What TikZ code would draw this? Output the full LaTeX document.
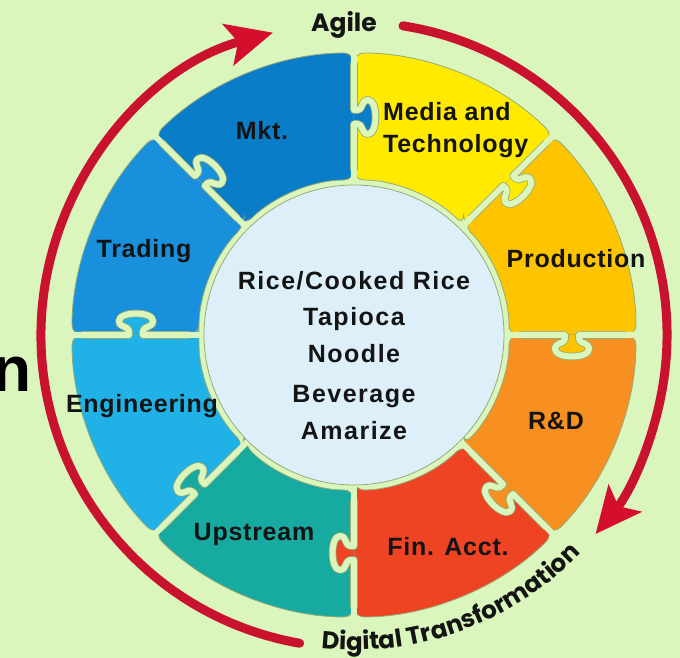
\documentclass[tikz,border=0pt]{standalone}
\usepackage{fontspec}
\setmainfont{Liberation Sans}
\newfontfamily\labelfont[LetterSpace=3]{Liberation Sans}
\newfontfamily\corefont[LetterSpace=6]{Liberation Sans}
\newfontfamily\arcfont{Poppins}
\usepackage{xcolor}
\usepackage{tikz}
\usetikzlibrary{arrows.meta}
\usetikzlibrary{decorations.text}
\usetikzlibrary{positioning}

\definecolor{bgc}{RGB}{218,246,188}
\definecolor{edgec}{RGB}{150,170,120}
\definecolor{mktc}{RGB}{10,125,200}
\definecolor{mediac}{RGB}{255,234,0}
\definecolor{prodc}{RGB}{255,196,0}
\definecolor{rdc}{RGB}{247,144,32}
\definecolor{finc}{RGB}{238,68,36}
\definecolor{upc}{RGB}{22,170,160}
\definecolor{engc}{RGB}{32,178,230}
\definecolor{tradc}{RGB}{24,144,220}
\definecolor{corec}{RGB}{221,240,250}
\definecolor{arcred}{RGB}{200,18,46}
\definecolor{tipred}{RGB}{214,14,46}
\definecolor{inkc}{RGB}{20,20,20}

\def\rin{155}
\def\rout{282}
\def\km{218}

\tikzset{piece-label/.style={font=\labelfont\bfseries\fontsize{25}{30}\selectfont, text=inkc, inner sep=0, anchor=base}}
\tikzset{core-label/.style={font=\corefont\bfseries\fontsize{25}{30}\selectfont, text=inkc, inner sep=0, anchor=base}}
\tikzset{gap-line/.style={draw=bgc, line width=6pt, line join=round}}
\tikzset{edge-line/.style={draw=edgec, line width=7.6pt, line join=round}}
\tikzset{cycle-arc/.style={draw=arcred, line width=9pt, line cap=round}}
\tikzset{>={Stealth[length=46pt, width=42pt, inset=10pt, color=tipred]}}

% one ring piece: start angle, end angle, colour
\newcommand{\piece}[3]{%
  \filldraw[fill=#3, draw=edgec, line width=0.8pt, rounded corners=10pt]
    (#1:\rin) -- (#1:\rout) arc[start angle=#1, end angle=#2, radius=\rout]
    -- (#2:\rin) arc[start angle=#2, end angle=#1, radius=\rin] -- cycle;}

% tab of the piece on the counter-clockwise side of the seam at angle #1
\newcommand{\knob}[2]{%
  \fill[#2, rotate=#1] (\km-7,0) -- (\km-7,-4)
    .. controls (\km-7,-9) and (\km-17,-7) .. (\km-17,-14)
    .. controls (\km-17,-24) and (\km+17,-24) .. (\km+17,-14)
    .. controls (\km+17,-7) and (\km+7,-9) .. (\km+7,-4) -- (\km+7,0) -- cycle;}

% seam between two pieces
\newcommand{\seam}[1]{%
  \draw[edge-line, rotate=#1] (\rin+10,0) -- (\km-7,0) -- (\km-7,-4)
    .. controls (\km-7,-9) and (\km-17,-7) .. (\km-17,-14)
    .. controls (\km-17,-24) and (\km+17,-24) .. (\km+17,-14)
    .. controls (\km+17,-7) and (\km+7,-9) .. (\km+7,-4) -- (\km+7,0) -- (\rout-10,0);
  \draw[gap-line, rotate=#1] (\rin-10,0) -- (\km-7,0) -- (\km-7,-4)
    .. controls (\km-7,-9) and (\km-17,-7) .. (\km-17,-14)
    .. controls (\km-17,-24) and (\km+17,-24) .. (\km+17,-14)
    .. controls (\km+17,-7) and (\km+7,-9) .. (\km+7,-4) -- (\km+7,0) -- (\rout+10,0);}

\begin{document}
\begin{tikzpicture}[x=1pt, y=1pt]
            \fill[bgc] (-354,-323) rectangle (326,335);
            \useasboundingbox (-354,-323) rectangle (326,335);

            % ring
            \piece{0}{45}{prodc}
            \piece{45}{90}{mediac}
            \piece{90}{135}{mktc}
            \piece{135}{180}{tradc}
            \piece{180}{225}{engc}
            \piece{225}{270}{upc}
            \piece{270}{315}{finc}
            \piece{315}{360}{rdc}

            \knob{0}{prodc}
            \knob{45}{mediac}
            \knob{90}{mktc}
            \knob{135}{tradc}
            \knob{180}{engc}
            \knob{225}{upc}
            \knob{270}{finc}
            \knob{315}{rdc}

            \seam{0}
            \seam{45}
            \seam{90}
            \seam{135}
            \seam{180}
            \seam{225}
            \seam{270}
            \seam{315}

            \filldraw[fill=corec, draw=edgec, line width=0.8pt] (0,0) circle[radius=150];

            % cycle arrows
            \draw[cycle-arc, ->] (81:313) arc[start angle=81, end angle=-39.5, radius=313];
            \draw[cycle-arc, ->] (260:313) arc[start angle=260, end angle=105, radius=313];

            \node[font=\arcfont\bfseries\fontsize{25}{30}\selectfont, text=inkc, inner sep=0] (agile) at (-10,310) {Agile};
            \path[decorate, decoration={text along path, text align=left,
                text={|\arcfont\bfseries\fontsize{24.5}{24.5}\selectfont\color{inkc}|Digital Transformation}}]
                (264:315) arc[start angle=264, end angle=330, radius=315];
            \node[font=\bfseries\fontsize{64}{64}\selectfont, text=black, inner sep=0, anchor=base east] (cutn) at (-322,-57) {n};

            % piece labels
            \node[piece-label] (mkt) at (-92,195) {Mkt.};
            \node[piece-label, anchor=base west] (media) at (29,214) {Media and};
            \node[piece-label, anchor=base west] (tech) at (29,182) {Technology};
            \node[piece-label] (prod) at (222,67) {Production};
            \node[piece-label] (rnd) at (202,-95) {R\&D};
            \node[piece-label] (fin) at (94,-220) {Fin. Acct.};
            \node[piece-label] (upstream) at (-100,-205) {Upstream};
            \node[piece-label] (eng) at (-212,-78) {Engineering};
            \node[piece-label] (trading) at (-210,77) {Trading};

            % products in the middle
            \node[core-label] (rice) at (0,45) {Rice/Cooked Rice};
            \node[core-label] (tapioca) at (0,9) {Tapioca};
            \node[core-label] (noodle) at (0,-28) {Noodle};
            \node[core-label] (beverage) at (0,-68) {Beverage};
            \node[core-label] (amarize) at (0,-105) {Amarize};

        \end{tikzpicture}
\end{document}
